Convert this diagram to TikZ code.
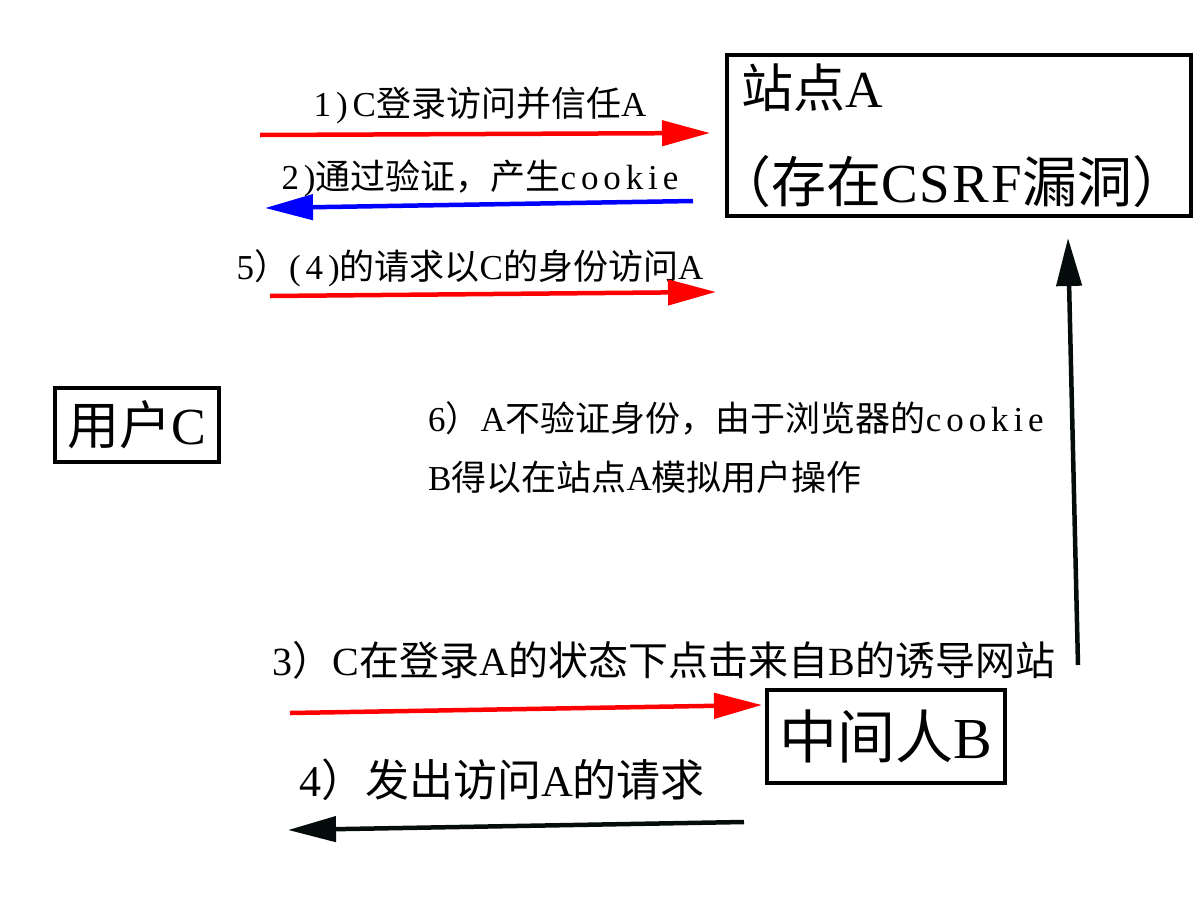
\documentclass[tikz,border=0pt]{standalone}
\usepackage{fontspec}
\setmainfont{Noto Sans CJK SC}
\newfontfamily\latfont{Liberation Serif}
\newfontfamily\latspfont[LetterSpace=14]{Liberation Serif}
\newfontfamily\latcsfont[LetterSpace=4]{Liberation Serif}
\newcommand\latn[1]{{\latfont #1}}
\newcommand\latsp[1]{{\latspfont #1}}
\newcommand\latcs[1]{{\latcsfont #1}}
\usetikzlibrary{arrows.meta}
\definecolor{arrblack}{HTML}{050C0C}
\tikzset{
  box/.style={draw=black, line width=4.5pt, inner sep=0pt},
  lbl/.style={inner sep=0pt, font=\fontsize{35}{42}\selectfont},
  arr/.style={line width=4.5pt, -{Triangle[length=48pt,width=25pt]}},
}
\begin{document}
\begin{tikzpicture}[x=1pt,y=-1pt]
\useasboundingbox (0,0) rectangle (1200,900);
% boxes
\node[box, minimum width=464pt, minimum height=161pt, text width=436pt, align=left,
      font=\fontsize{52}{95}\selectfont] (siteA) at (959,135.5)
  {站点\latn{A}\\{\fontsize{55}{95}\selectfont\hspace*{-25pt}（存在\latcs{CSRF}漏洞）}};
\node[box, minimum width=164pt, minimum height=74pt, font=\fontsize{52}{60}\selectfont]
  (userC) at (137,425) {用户\latn{C}};
\node[box, minimum width=238pt, minimum height=93pt, font=\fontsize{58}{66}\selectfont]
  (midB) at (886,736.5) {中间人\latn{B}};
% labels
\node[lbl] (l1) at (480,105) {\latsp{1)C}登录访问并信任\latn{A}};
\node[lbl] (l2) at (480,178) {\latsp{2)}通过验证，产生\latsp{cookie}};
\node[lbl] (l5) at (470,268) {\latn{5}）\latsp{(4)}的请求以\latn{C}的身份访问\latn{A}};
\node[lbl, anchor=west] (l6a) at (428,418) {\latsp{6}）\latn{A}不验证身份，由于浏览器的\latsp{cookie}};
\node[lbl, anchor=west] (l6b) at (428,477) {\latn{B}得以在站点\latn{A}模拟用户操作};
\node[lbl, font=\fontsize{40}{48}\selectfont] (l3) at (664,660)
  {\latsp{3}）\latn{C}在登录\latn{A}的状态下点击来自\latn{B}的诱导网站};
\node[lbl, font=\fontsize{44}{52}\selectfont] (l4) at (502,780)
  {\latsp{4}）发出访问\latn{A}的请求};
% arrow end points
\coordinate (a1s) at (260,135); \coordinate (a1e) at (710,133);
\coordinate (a2s) at (693,201); \coordinate (a2e) at (265,208);
\coordinate (a5s) at (270,296); \coordinate (a5e) at (716,292);
\coordinate (a3s) at (290,713); \coordinate (a3e) at (762,705);
\coordinate (a4s) at (744,822); \coordinate (a4e) at (288,830);
\coordinate (a6s) at (1078,665); \coordinate (a6e) at (1068,238);
% arrows
\draw[arr, red] (a1s) -- (a1e);
\draw[arr, blue] (a2s) -- (a2e);
\draw[arr, red] (a5s) -- (a5e);
\draw[arr, red] (a3s) -- (a3e);
\draw[arr, arrblack] (a4s) -- (a4e);
\draw[arr, arrblack] (a6s) -- (a6e);
\end{tikzpicture}
\end{document}
